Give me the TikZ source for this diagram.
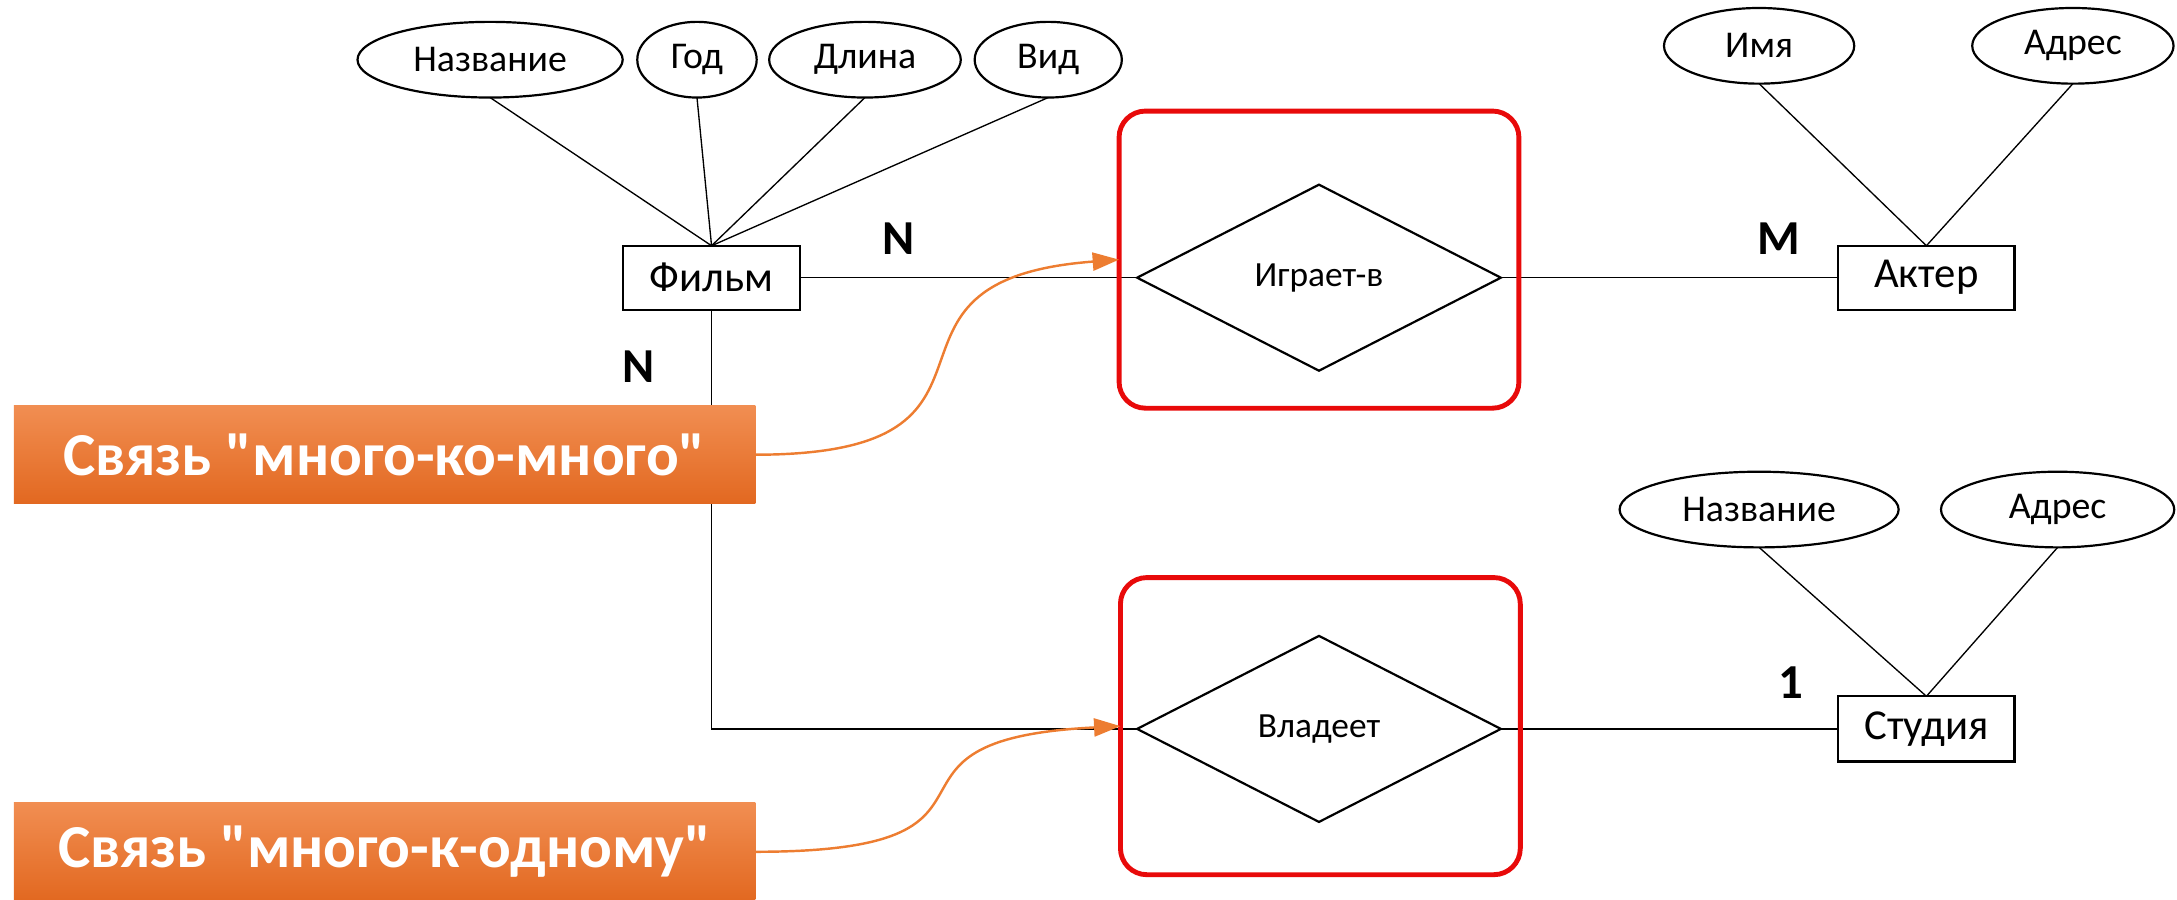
\documentclass[tikz,border=0pt]{standalone}
\usepackage{fontspec}
\setmainfont{Carlito}
\newfontfamily\calloutfont{Carlito}[Ligatures=TeXOff]
\usepackage{xcolor}
\usetikzlibrary{shapes.geometric,arrows.meta}
\definecolor{accOrange}{RGB}{237,125,49}
\definecolor{accTop}{RGB}{241,142,82}
\definecolor{accBot}{RGB}{226,104,32}
\definecolor{accRed}{RGB}{232,10,10}
\begin{document}
\begin{tikzpicture}[every node/.style={inner sep=0pt,outer sep=0pt},
  attr/.style={draw,line width=.9pt,ellipse,minimum height=1.09cm,font=\fontsize{15.5}{18}\selectfont},
  entity/.style={draw,line width=.9pt,minimum width=2.54cm,minimum height=.92cm,font=\fontsize{17.5}{20}\selectfont},
  rel/.style={draw,line width=.9pt,diamond,aspect=2,minimum width=5.24cm,minimum height=2.68cm,font=\fontsize{14.5}{17}\selectfont},
  redbox/.style={draw=accRed,line width=2pt,rounded corners=.38cm,minimum width=5.76cm,minimum height=4.28cm},
  callout/.style={top color=accTop,bottom color=accBot,text=white,minimum width=10.68cm,minimum height=1.42cm,font=\calloutfont\bfseries\fontsize{25}{30}\selectfont},
  card/.style={font=\bfseries\fontsize{20}{24}\selectfont},
  link/.style={line width=.55pt},
  hint/.style={draw=accOrange,line width=1pt,-{Triangle[length=.38cm,width=.26cm]}}]
\useasboundingbox (0,0) rectangle (31.36,-12.96);
% attributes
\node[attr,minimum width=3.82cm] (nameF) at (7.06,-.86) {Название};
\node[attr,minimum width=1.72cm] (yearF) at (10.04,-.86) {Год};
\node[attr,minimum width=2.76cm] (lenF) at (12.46,-.86) {Длина};
\node[attr,minimum width=2.12cm] (kindF) at (15.10,-.86) {Вид};
\node[attr,minimum width=2.74cm] (nameA) at (25.34,-.66) {Имя};
\node[attr,minimum width=2.90cm] (addrA) at (29.86,-.66) {Адрес};
\node[attr,minimum width=4.02cm] (nameS) at (25.34,-7.34) {Название};
\node[attr,minimum width=3.36cm] (addrS) at (29.64,-7.34) {Адрес};
% entities and relations
\node[entity] (film) at (10.25,-4) {Фильм};
\node[entity] (actor) at (27.75,-4) {Актер};
\node[entity,minimum height=.94cm] (studio) at (27.75,-10.5) {Студия};
\node[rel] (plays) at (19,-4) {Играет-в};
\node[rel] (owns) at (19,-10.5) {Владеет};
\foreach \a in {nameF,yearF,lenF,kindF} \draw[link] (\a.south) -- (film.north);
\draw[link] (nameA.south) -- (actor.north);
\draw[link] (addrA.south) -- (actor.north);
\draw[link] (nameS.south) -- (studio.north);
\draw[link] (addrS.south) -- (studio.north);
\draw[link] (film.east) -- (plays.west);
\draw[link] (plays.east) -- (actor.west);
\draw[link] (film.south) |- (owns.west);
\draw[link] (owns.east) -- (studio.west);
\node[redbox] (playsBox) at (19,-3.74) {};
\node[redbox] (ownsBox) at (19.02,-10.46) {};
% cardinalities
\node[card] (nFilm) at (12.94,-3.44) {N};
\node[card] (nFilmB) at (9.20,-5.28) {N};
\node[card] (mActor) at (25.62,-3.44) {M};
\node[card] (oneStudio) at (25.80,-9.84) {1};
% callouts
\node[callout] (manyMany) at (5.54,-6.55) {Связь "много-ко-много"};
\node[callout] (manyOne) at (5.54,-12.27) {Связь "много-к-одному"};
\draw[hint] (manyMany.east) .. controls +(4.2,0) and +(-4,-.3) .. (playsBox.west);
\draw[hint] (manyOne.east) .. controls +(4.2,0) and +(-4,-.2) .. (ownsBox.west);
\end{tikzpicture}
\end{document}
